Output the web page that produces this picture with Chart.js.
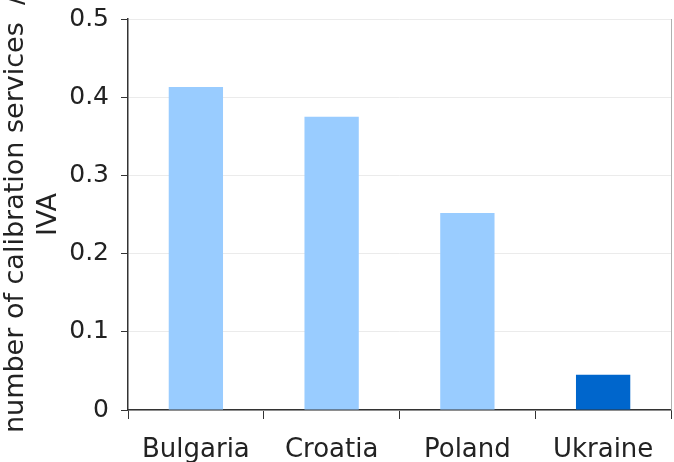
<!DOCTYPE html>
<html>
<head>
<meta charset="utf-8">
<script src="https://cdn.jsdelivr.net/npm/chart.js@4"></script>
<style>
html,body{margin:0;padding:0;background:#fff;}
#wrap{width:674px;height:462px;}
</style>
</head>
<body>
<div id="wrap"><canvas id="c" width="674" height="462"></canvas></div>
<script>
const categories = ["Bulgaria", "Croatia", "Poland", "Ukraine"];
const values = [0.413, 0.375, 0.252, 0.045];
const barColors = ["#99CCFF", "#99CCFF", "#99CCFF", "#0066CC"];
const yTitle = ["number of calibration services  /", "IVA"];

const frame = {
  id: 'frame',
  afterDatasetsDraw(chart) {
    const a = chart.chartArea, ctx = chart.ctx;
    ctx.save();
    ctx.strokeStyle = '#b0b0b0';
    ctx.lineWidth = 1;
    ctx.beginPath();
    ctx.moveTo(a.right + 0.5, a.top);
    ctx.lineTo(a.right + 0.5, a.bottom);
    ctx.stroke();
    ctx.restore();
  }
};

new Chart(document.getElementById('c'), {
  type: 'bar',
  data: {
    labels: categories,
    datasets: [{ data: values, backgroundColor: barColors, borderWidth: 0,
      barPercentage: 0.4, categoryPercentage: 1.0 }]
  },
  plugins: [frame],
  options: {
    responsive: false,
    animation: false,
    layout: { padding: { top: 19, right: 3, left: 0, bottom: 0 } },
    plugins: { legend: { display: false }, tooltip: { enabled: false } },
    scales: {
      x: {
        grid: { drawOnChartArea: false, color: '#333', tickColor: '#333', tickLength: 9, offset: true },
        border: { color: '#333', width: 1.5 },
        ticks: { color: '#222', font: { family: 'DejaVu Sans', size: 26 }, padding: 16 },
        afterFit(s) { s.height = 52; }
      },
      y: {
        min: 0, max: 0.5,
        ticks: { stepSize: 0.1, color: '#222', font: { family: 'DejaVu Sans', size: 25 }, padding: 12 },
        grid: { color: '#ebebeb', tickColor: '#333', tickLength: 7 },
        border: { color: '#333', width: 1.5 },
        title: { display: true, text: yTitle, color: '#222',
          font: { family: 'DejaVu Sans', size: 27, lineHeight: 1.2 }, padding: 0 },
        afterFit(s) { s.width = 128; s.paddingTop = 0; s.paddingBottom = 0; }
      }
    }
  }
});
</script>
</body>
</html>
